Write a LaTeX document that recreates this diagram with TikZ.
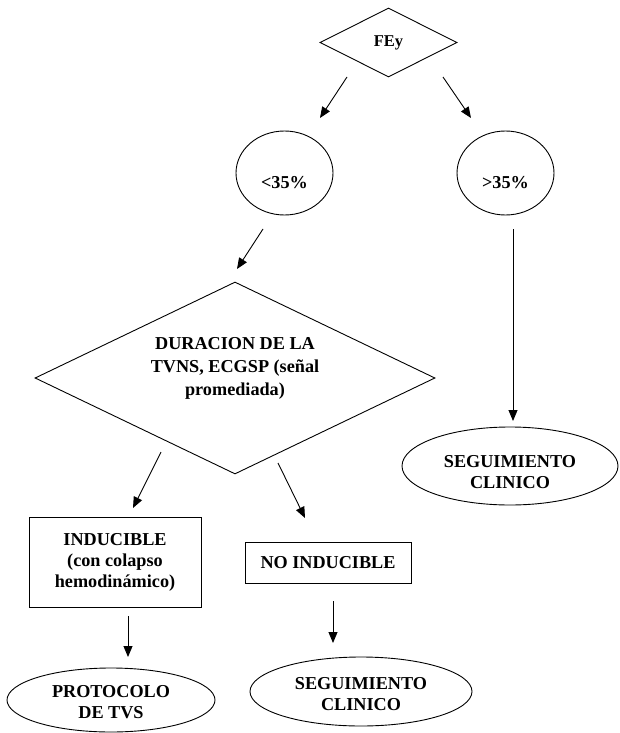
\documentclass[tikz,border=0pt]{standalone}
\usepackage{fontspec}
\setmainfont{Liberation Serif}
\usetikzlibrary{shapes.geometric,arrows.meta}
\begin{document}
\begin{tikzpicture}[x=1pt,y=-1pt,
  every node/.style={font=\fontsize{18.2}{21}\selectfont\bfseries, align=center, inner sep=0pt},
  shp/.style={draw, line width=0.9pt},
  arr/.style={line width=0.9pt, -{Triangle[length=11pt,width=9pt]}}]
\useasboundingbox (0,0) rectangle (620,733);
% shapes
\node[shp, diamond, minimum width=137pt, minimum height=69pt, font=\fontsize{16.5}{19}\selectfont\bfseries] (fey) at (388.5,42.5) {FEy};
\node[shp, ellipse, minimum width=97pt, minimum height=84pt] (lt) at (284.5,173) {};
\node (ltx) at (284.5,183) {<35\%};
\node[shp, ellipse, minimum width=97pt, minimum height=84pt] (gt) at (505.5,173) {};
\node (gtx) at (505.5,183) {>35\%};
\node[shp, diamond, minimum width=400pt, minimum height=192pt] (dur) at (235,378) {};
\node[font=\fontsize{18.2}{23}\selectfont\bfseries] (durx) at (235,368) {DURACION DE LA\\TVNS, ECGSP (señal\\promediada)};
\node[shp, rectangle, minimum width=172pt, minimum height=90pt] (ind) at (115,562) {INDUCIBLE\\(con colapso\\hemodinámico)};
\node[shp, rectangle, minimum width=166pt, minimum height=41pt] (noind) at (328,562.5) {NO INDUCIBLE};
\node[shp, ellipse, minimum width=208pt, minimum height=64pt] (prot) at (111,700) {};
\node (protx) at (111,702) {PROTOCOLO\\DE TVS};
\node[shp, ellipse, minimum width=222pt, minimum height=69pt] (seg1) at (361,691.5) {};
\node (seg1x) at (361,694) {SEGUIMIENTO\\CLINICO};
\node[shp, ellipse, minimum width=216pt, minimum height=78pt] (seg2) at (510,466) {};
\node (seg2x) at (510,472) {SEGUIMIENTO\\CLINICO};
% connector end points
\coordinate (a1s) at (347,77);  \coordinate (a1e) at (320,118);
\coordinate (a2s) at (443,77);  \coordinate (a2e) at (471,118);
\coordinate (a3s) at (263,229); \coordinate (a3e) at (237,269);
\coordinate (a4s) at (513,229); \coordinate (a4e) at (513,421);
\coordinate (a5s) at (161,452); \coordinate (a5e) at (133,508);
\coordinate (a6s) at (278,463); \coordinate (a6e) at (305,518);
\coordinate (a7s) at (128,616); \coordinate (a7e) at (128,657);
\coordinate (a8s) at (333,601); \coordinate (a8e) at (333,643);
\draw[arr] (a1s) -- (a1e);
\draw[arr] (a2s) -- (a2e);
\draw[arr] (a3s) -- (a3e);
\draw[arr] (a4s) -- (a4e);
\draw[arr] (a5s) -- (a5e);
\draw[arr] (a6s) -- (a6e);
\draw[arr] (a7s) -- (a7e);
\draw[arr] (a8s) -- (a8e);
\end{tikzpicture}
\end{document}
